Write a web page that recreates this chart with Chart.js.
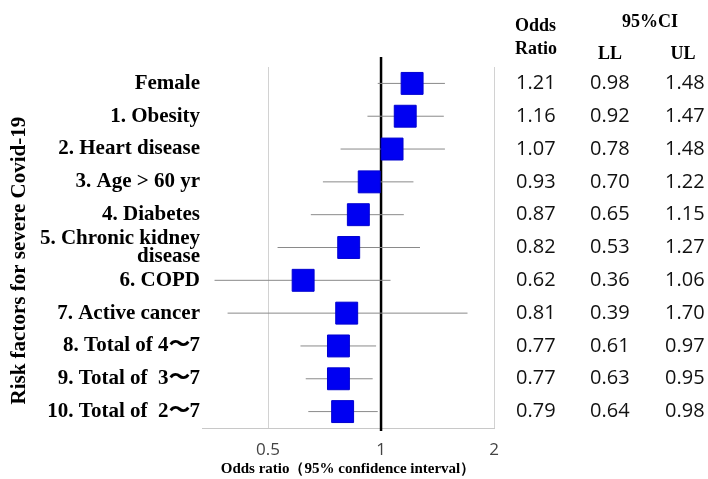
<!DOCTYPE html>
<html>
<head>
<meta charset="utf-8">
<script src="https://cdn.jsdelivr.net/npm/chart.js@4.4.1/dist/chart.umd.min.js"></script>
<style>
	html, body { margin: 0; padding: 0; background: #fff; }
	#wrap { width: 708px; height: 479px; }
</style>
</head>
<body>
<div id="wrap"><canvas id="forest"></canvas></div>
<script>
const factors = [
	'Female',
	'1. Obesity',
	'2. Heart disease',
	'3. Age > 60 yr',
	'4. Diabetes',
	['5. Chronic kidney', 'disease'],
	'6. COPD',
	'7. Active cancer',
	'8. Total of 4〜7',
	'9. Total of  3〜7',
	'10. Total of  2〜7'
]
const oddsRatio = [1.21, 1.16, 1.07, 0.93, 0.87, 0.82, 0.62, 0.81, 0.77, 0.77, 0.79]
const lowerCI = [0.98, 0.92, 0.78, 0.70, 0.65, 0.53, 0.36, 0.39, 0.61, 0.63, 0.64]
const upperCI = [1.48, 1.47, 1.48, 1.22, 1.15, 1.27, 1.06, 1.70, 0.97, 0.95, 0.98]
const xTicks = [0.5, 1, 2]

const serif = '"Liberation Serif", "Times New Roman", serif'
const sans = '"Open Sans", "Noto Sans", sans-serif'

// reference line at OR = 1 and the numbers table on the right
const forestExtras = {
	id: 'forestExtras',
	beforeDatasetsDraw(chart) {
		const {ctx, chartArea, scales: {x}} = chart
		const px = x.getPixelForValue(1)
		ctx.save()
		ctx.strokeStyle = '#000'
		ctx.lineWidth = 2.5
		ctx.beginPath()
		ctx.moveTo(px, chartArea.top - 10)
		ctx.lineTo(px, chartArea.bottom + 3)
		ctx.stroke()
		ctx.restore()
	},
	afterDraw(chart) {
		const {ctx, scales: {y}} = chart
		ctx.save()
		ctx.fillStyle = '#000'
		ctx.textBaseline = 'middle'
		ctx.font = 'bold 18px ' + serif
		ctx.textAlign = 'left'
		ctx.fillText('Odds', 515, 26)
		ctx.fillText('Ratio', 515, 49)
		ctx.textAlign = 'center'
		ctx.fillText('95%CI', 650, 22)
		ctx.fillText('LL', 610, 54)
		ctx.fillText('UL', 683, 54)

		ctx.font = '20px ' + sans
		ctx.fillStyle = '#111'
		ctx.textAlign = 'left'
		oddsRatio.forEach((v, i) => {
			const py = y.getPixelForValue(i)
			ctx.fillText(v.toFixed(2), 516, py)
			ctx.fillText(lowerCI[i].toFixed(2), 590, py)
			ctx.fillText(upperCI[i].toFixed(2), 665, py)
		})
		ctx.restore()
	}
}

const whiskers = factors.map((f, i) => ({
	data: [{x: lowerCI[i], y: i}, {x: upperCI[i], y: i}],
	showLine: true,
	borderColor: '#8a8a8a',
	borderWidth: 1,
	pointRadius: 0
}))

new Chart(document.getElementById('forest'), {
	type: 'scatter',
	data: {
		datasets: [
			{
				data: oddsRatio.map((v, i) => ({x: v, y: i})),
				pointStyle: 'rect',
				pointRadius: 15.5,
				backgroundColor: '#0000f2',
				borderColor: '#0000d0',
				borderWidth: 1
			},
			...whiskers
		]
	},
	options: {
		responsive: true,
		maintainAspectRatio: false,
		animation: false,
		layout: {padding: {top: 67, right: 214, left: 0, bottom: 0}},
		plugins: {
			legend: {display: false},
			tooltip: {enabled: false}
		},
		scales: {
			x: {
				type: 'logarithmic',
				bounds: 'data',
				min: 1 / 3,
				max: 2,
				afterBuildTicks: (s) => { s.ticks = xTicks.map(v => ({value: v})) },
				afterFit: (s) => { s.height = 51 },
				ticks: {
					callback: (v) => String(v),
					font: {family: sans, size: 17},
					color: '#444',
					padding: 12,
					maxRotation: 0
				},
				grid: {
					color: (c) => (c.tick && c.tick.value === 1) ? 'rgba(0,0,0,0)' : '#d2d2d2',
					drawTicks: false
				},
				border: {color: '#c8c8c8'},
				title: {
					display: true,
					text: 'Odds ratio（95% confidence interval）',
					font: {family: serif, size: 15, weight: 'bold'},
					color: '#000',
					padding: {top: 0, bottom: 1}
				}
			},
			y: {
				type: 'linear',
				reverse: true,
				min: -0.5,
				max: 10.5,
				afterBuildTicks: (s) => { s.ticks = factors.map((f, i) => ({value: i})) },
				afterFit: (s) => { s.width = 202 },
				ticks: {
					callback: (v) => factors[v],
					autoSkip: false,
					font: {family: serif, size: 21, weight: 'bold', lineHeight: 0.82},
					color: '#000',
					padding: 2
				},
				grid: {display: false, drawTicks: false},
				border: {display: false},
				title: {
					display: true,
					// trailing spaces nudge the rotated title down a little, as in the original
					text: 'Risk factors for severe Covid-19     ',
					font: {family: serif, size: 21, weight: 'bold'},
					color: '#000',
					padding: {top: 7, bottom: 0}
				}
			}
		}
	},
	plugins: [forestExtras]
})
</script>
</body>
</html>
